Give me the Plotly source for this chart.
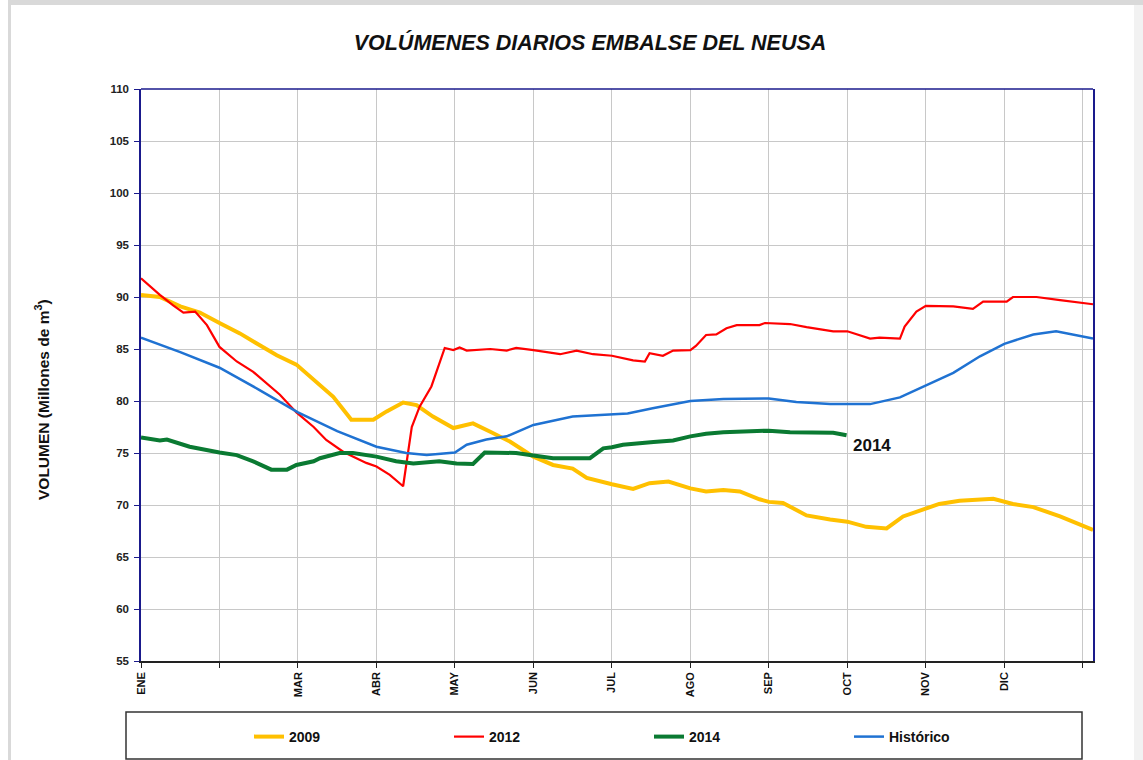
import plotly.graph_objects as go

# ---------------- data (x in months from 1 Jan, months equally spaced) -------------
month_ticks = [0, 2, 3, 4, 5, 6, 7, 8, 9, 10, 11]
month_labels = ["ENE", "MAR", "ABR", "MAY", "JUN", "JUL", "AGO", "SEP", "OCT", "NOV", "DIC"]
unlabeled_ticks = [1, 12]

x_2009 = [0, 0.24, 0.5, 0.75, 1.0, 1.26, 1.47, 1.73, 1.98, 2.2, 2.45, 2.68, 2.96, 3.13, 3.34,
          3.51, 3.72, 3.98, 4.23, 4.45, 4.7, 5.0, 5.25, 5.5, 5.68, 6.0, 6.27, 6.48, 6.72, 7.0,
          7.2, 7.42, 7.63, 7.88, 8.0, 8.18, 8.48, 8.78, 9.0, 9.24, 9.5, 9.71, 10.0, 10.17,
          10.43, 10.86, 11.11, 11.37, 11.71, 12.13]
y_2009 = [90.2, 90.0, 89.1, 88.5, 87.5, 86.5, 85.55, 84.4, 83.5, 82.0, 80.4, 78.2, 78.2, 79.0,
          79.85, 79.6, 78.5, 77.4, 77.85, 77.05, 76.1, 74.65, 73.85, 73.5, 72.6, 72.0, 71.55,
          72.1, 72.25, 71.6, 71.3, 71.45, 71.3, 70.55, 70.3, 70.2, 69.0, 68.6, 68.4, 67.9,
          67.75, 68.9, 69.6, 70.1, 70.4, 70.6, 70.1, 69.8, 68.9, 67.6]

x_2012 = [0, 0.24, 0.41, 0.54, 0.69, 0.84, 1.0, 1.22, 1.43, 1.6, 1.77, 1.98, 2.2, 2.36, 2.58,
          2.87, 3.0, 3.17, 3.34, 3.45, 3.55, 3.7, 3.79, 3.87, 3.98, 4.06, 4.15, 4.45, 4.66,
          4.78, 5.0, 5.34, 5.55, 5.76, 6.0, 6.27, 6.42, 6.48, 6.65, 6.78, 7.0, 7.07, 7.2,
          7.33, 7.46, 7.59, 7.88, 7.95, 8.27, 8.48, 8.82, 9.0, 9.29, 9.41, 9.67, 9.73, 9.88,
          10.0, 10.35, 10.6, 10.73, 11.03, 11.11, 11.41, 11.71, 12.13]
y_2012 = [91.8, 90.2, 89.2, 88.5, 88.6, 87.3, 85.2, 83.8, 82.8, 81.7, 80.6, 78.9, 77.5, 76.25,
          75.1, 74.05, 73.7, 72.9, 71.8, 77.5, 79.45, 81.4, 83.3, 85.1, 84.9, 85.15, 84.85,
          85.0, 84.85, 85.1, 84.9, 84.5, 84.85, 84.5, 84.35, 83.9, 83.8, 84.6, 84.35, 84.85,
          84.9, 85.3, 86.35, 86.4, 87.0, 87.3, 87.3, 87.5, 87.4, 87.1, 86.7, 86.7, 86.0,
          86.1, 86.0, 87.15, 88.6, 89.15, 89.1, 88.85, 89.55, 89.55, 90.0, 90.0, 89.7, 89.3]

x_2014 = [0, 0.24, 0.33, 0.62, 1.0, 1.22, 1.43, 1.66, 1.86, 1.98, 2.2, 2.28, 2.53, 2.7, 3.0,
          3.25, 3.47, 3.8, 4.02, 4.23, 4.38, 4.78, 5.0, 5.25, 5.72, 5.89, 6.0, 6.14, 6.53,
          6.78, 7.0, 7.2, 7.42, 7.88, 8.0, 8.27, 8.82, 8.99]
y_2014 = [76.5, 76.2, 76.3, 75.6, 75.05, 74.8, 74.2, 73.4, 73.4, 73.85, 74.2, 74.5, 75.0, 75.0,
          74.65, 74.2, 74.0, 74.2, 74.0, 73.95, 75.05, 75.0, 74.75, 74.5, 74.5, 75.45, 75.55,
          75.8, 76.05, 76.2, 76.6, 76.85, 77.0, 77.05, 77.15, 77.0, 76.95, 76.7]

x_hist = [0, 0.5, 1, 1.5, 2, 2.5, 3, 3.38, 3.64, 4.0, 4.15, 4.4, 4.66, 5.0, 5.5, 6.0, 6.2,
          6.52, 7.0, 7.42, 7.88, 8.0, 8.35, 8.78, 9.0, 9.29, 9.67, 10.0, 10.35, 10.69, 11.0,
          11.37, 11.66, 12.13]
y_hist = [86.1, 84.7, 83.2, 81.1, 78.9, 77.1, 75.6, 75.0, 74.8, 75.05, 75.8, 76.3, 76.6, 77.7,
          78.5, 78.7, 78.8, 79.3, 80.0, 80.2, 80.2, 80.25, 79.9, 79.7, 79.7, 79.7, 80.35, 81.5,
          82.7, 84.3, 85.5, 86.4, 86.7, 86.0]

label_2014 = "2014"
label_x, label_y = 9.05, 75.7

# ---------------- layout helpers ----------------
W, H = 1143, 760
L, R, T, B = 141, 1093, 89, 661


def px(xp):
    return (xp - L) / (R - L)


def py(yp):
    return (B - yp) / (B - T)


FONT = "Arial, Liberation Sans, sans-serif"
NAVY = "#1a1a8c"
GRID = "#c8c8c8"

fig = go.Figure()
fig.add_trace(go.Scatter(x=x_2009, y=y_2009, mode="lines", name="2009",
                         line=dict(color="#FFC000", width=4)))
fig.add_trace(go.Scatter(x=x_2012, y=y_2012, mode="lines", name="2012",
                         line=dict(color="#FF0000", width=2.2)))
fig.add_trace(go.Scatter(x=x_2014, y=y_2014, mode="lines", name="2014",
                         line=dict(color="#0A7A32", width=4)))
fig.add_trace(go.Scatter(x=x_hist, y=y_hist, mode="lines", name="Histórico",
                         line=dict(color="#1F72D2", width=2.5)))

fig.add_annotation(x=label_x, y=label_y, text=label_2014, showarrow=False,
                   xanchor="left", yanchor="middle",
                   font=dict(family=FONT, size=17, color="#111", weight="bold"))

fig.add_annotation(xref="paper", yref="paper", x=px(42), y=py(400),
                   text="VOLUMEN (Millones de m<sup>3</sup>)", textangle=-90,
                   showarrow=False, xanchor="center", yanchor="middle",
                   font=dict(family=FONT, size=15.5, color="#111", weight="bold"))

shapes = [
    # outer frame (window border)
    dict(type="rect", xref="paper", yref="paper", x0=px(8), x1=px(W), y0=py(0), y1=py(5),
         fillcolor="#d9d9d9", line=dict(width=0), layer="below"),
    dict(type="rect", xref="paper", yref="paper", x0=px(8), x1=px(11), y0=py(H), y1=py(0),
         fillcolor="#d9d9d9", line=dict(width=0), layer="below"),
    dict(type="rect", xref="paper", yref="paper", x0=px(1134), x1=px(W), y0=py(H), y1=py(5),
         fillcolor="#f2f2f2", line=dict(width=0), layer="below"),
    # top border of plot
    dict(type="line", xref="paper", yref="paper", x0=0, x1=1, y0=1, y1=1,
         line=dict(color=NAVY, width=1.5)),
    # legend box
    dict(type="rect", xref="paper", yref="paper", x0=px(126), x1=px(1082), y0=py(759), y1=py(712),
         line=dict(color="#333", width=1.5), fillcolor="rgba(0,0,0,0)"),
]

fig.update_layout(
    width=W, height=H,
    margin=dict(l=L, r=W - R, t=T, b=H - B, pad=0, autoexpand=False),
    paper_bgcolor="white", plot_bgcolor="white",
    shapes=shapes,
    title=dict(text="VOLÚMENES DIARIOS EMBALSE DEL NEUSA", x=590 / W, xanchor="center",
               y=1 - 42 / H, yanchor="middle", xref="container", yref="container",
               font=dict(family=FONT, size=21.5, color="#111", weight="bold", style="italic")),
    showlegend=True,
    legend=dict(orientation="h", x=px(249), xanchor="left", y=py(737), yanchor="middle",
                bgcolor="rgba(0,0,0,0)", borderwidth=0, entrywidth=155, entrywidthmode="pixels",
                font=dict(family=FONT, size=14, color="#111", weight="bold"),
                traceorder="normal"),
    xaxis=dict(range=[0, 12.13], tickvals=month_ticks, ticktext=month_labels,
               tickangle=-90, showgrid=True, gridcolor=GRID, gridwidth=1,
               showline=True, linecolor="#222", linewidth=1.5,
               ticks="outside", ticklen=5, tickcolor="#222",
               tickfont=dict(family=FONT, size=11, color="#111", weight="bold"),
               minor=dict(tickvals=unlabeled_ticks, showgrid=True, gridcolor=GRID, gridwidth=1,
                          ticks="outside", ticklen=5, tickcolor="#222"),
               zeroline=False, fixedrange=True, automargin=False),
    yaxis=dict(range=[55, 110], dtick=5, tick0=55, showgrid=True, gridcolor=GRID,
               gridwidth=1, showline=True, linecolor=NAVY, linewidth=1.5, mirror=True,
               ticks="outside", ticklen=5, tickcolor=NAVY, ticklabelstandoff=3,
               tickfont=dict(family=FONT, size=11.5, color="#222", weight="bold"),
               zeroline=False, fixedrange=True, automargin=False),
)

fig.write_html("out.html", config={"displayModeBar": False},
               post_script="document.body.style.margin='0';document.body.style.overflow='hidden';")
